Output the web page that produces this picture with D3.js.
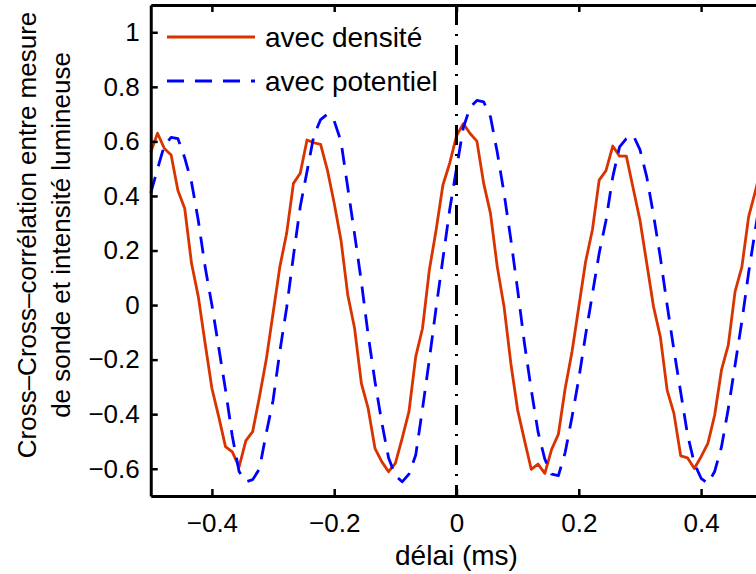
<!DOCTYPE html>
<html>
<head>
<meta charset="utf-8">
<script src="https://cdn.jsdelivr.net/npm/d3@7"></script>
<style>
    body { margin: 0; background: #fff; }
    #chart { width: 756px; height: 574px; }
    text { font-family: "Liberation Sans", Arial, Helvetica, sans-serif; fill: #000; }
</style>
</head>
<body>
<div id="chart"></div>
<script>

// cross-correlation samples, one every 1/90 ms from -0.5 to 0.5
const lagStart = -0.5;
const lagStep = 1 / 90;

const densite = [0.56, 0.63, 0.574, 0.55, 0.42, 0.354, 0.153, 0.031, -0.14, -0.305,
    -0.409, -0.519, -0.538, -0.593, -0.497, -0.464, -0.336, -0.2, -0.03, 0.14,
    0.263, 0.446, 0.483, 0.605, 0.595, 0.589, 0.495, 0.373, 0.238, 0.037,
    -0.085, -0.287, -0.379, -0.525, -0.574, -0.611, -0.58, -0.489, -0.391, -0.189,
    -0.085, 0.128, 0.275, 0.44, 0.52, 0.62, 0.665, 0.629, 0.601, 0.446,
    0.336, 0.14, -0.006, -0.214, -0.385, -0.495, -0.602, -0.583, -0.617, -0.529,
    -0.473, -0.305, -0.171, -0.006, 0.159, 0.275, 0.458, 0.493, 0.583, 0.546,
    0.546, 0.428, 0.312, 0.153, -0.006, -0.116, -0.312, -0.397, -0.553, -0.56,
    -0.599, -0.556, -0.507, -0.403, -0.238, -0.147, 0.049, 0.14, 0.324, 0.419,
    0.52];

const potentiel = [0.41, 0.5, 0.585, 0.615, 0.61, 0.54, 0.45, 0.31, 0.14, 0.0,
    -0.155, -0.31, -0.48, -0.61, -0.648, -0.64, -0.6, -0.47, -0.35, -0.17,
    -0.01, 0.18, 0.36, 0.49, 0.62, 0.68, 0.7, 0.675, 0.6, 0.43,
    0.26, 0.085, -0.11, -0.28, -0.43, -0.56, -0.625, -0.648, -0.62, -0.55,
    -0.38, -0.2, -0.01, 0.17, 0.35, 0.5, 0.65, 0.725, 0.75, 0.745,
    0.69, 0.56, 0.41, 0.24, 0.055, -0.14, -0.31, -0.465, -0.565, -0.62,
    -0.625, -0.54, -0.41, -0.27, -0.11, 0.04, 0.19, 0.31, 0.47, 0.58,
    0.61, 0.623, 0.57, 0.47, 0.33, 0.175, 0.0, -0.165, -0.32, -0.475,
    -0.58, -0.635, -0.654, -0.61, -0.52, -0.38, -0.22, -0.06, 0.12, 0.28,
    0.43];

const seriesNames = ["avec densité", "avec potentiel"];
const xTicks = [-0.4, -0.2, 0, 0.2, 0.4];
const yTicks = [-0.6, -0.4, -0.2, 0, 0.2, 0.4, 0.6, 0.8, 1];
const xDomain = [-0.5, 0.5];
const yDomain = [-0.7, 1.1];


class correlationPlot {

    constructor(parentElement) {
        this.parentElement = parentElement;
        this.initVis();
    }

    initVis() {
        let vis = this;

        vis.width = 756;
        vis.height = 574;

        vis.svg = d3.select("#" + vis.parentElement).append("svg")
            .attr("width", vis.width)
            .attr("height", vis.height);

        // axes box runs past the right edge of the window
        vis.x = d3.scaleLinear()
            .domain(xDomain)
            .range([150.75, 762.25]);

        vis.y = d3.scaleLinear()
            .domain(yDomain)
            .range([496, 5]);

        vis.wrangleData();
    }

    wrangleData() {
        let vis = this;

        let toPoints = vals => vals.map((v, i) => ({lag: lagStart + i * lagStep, value: v}));

        vis.displayData = [
            {name: seriesNames[0], points: toPoints(densite), color: "#d93300", dash: null},
            {name: seriesNames[1], points: toPoints(potentiel), color: "#0000ff", dash: "17,11"}
        ];

        vis.updateVis();
    }

    updateVis() {
        let vis = this;

        let line = d3.line()
            .x(d => vis.x(d.lag))
            .y(d => vis.y(d.value));

        vis.displayData.forEach(s => {
            vis.svg.append("path")
                .datum(s.points)
                .attr("d", line)
                .attr("fill", "none")
                .attr("stroke", s.color)
                .attr("stroke-width", 2.8)
                .attr("stroke-linejoin", "round")
                .attr("stroke-dasharray", s.dash);
        });

        // zero-lag marker
        vis.svg.append("line")
            .attr("x1", vis.x(0)).attr("x2", vis.x(0))
            .attr("y1", vis.y(yDomain[1])).attr("y2", vis.y(yDomain[0]))
            .attr("stroke", "#000")
            .attr("stroke-width", 3)
            .attr("stroke-dasharray", "20,9,2,9");

        // axes, ticks pointing inward
        let fmt = d => d3.format("")(d);

        let bottom = vis.svg.append("g")
            .attr("transform", "translate(0," + vis.y(yDomain[0]) + ")")
            .call(d3.axisBottom(vis.x).tickValues(xTicks).tickSizeInner(-7).tickSizeOuter(0).tickPadding(18).tickFormat(fmt));
        let top = vis.svg.append("g")
            .attr("transform", "translate(0," + vis.y(yDomain[1]) + ")")
            .call(d3.axisTop(vis.x).tickValues(xTicks).tickSizeInner(-7).tickSizeOuter(0).tickFormat(""));
        let left = vis.svg.append("g")
            .attr("transform", "translate(" + vis.x(xDomain[0]) + ",0)")
            .call(d3.axisLeft(vis.y).tickValues(yTicks).tickSizeInner(-7).tickSizeOuter(0).tickPadding(11).tickFormat(fmt));

        [bottom, top, left].forEach(g => {
            g.select(".domain").attr("stroke", "#000").attr("stroke-width", 3);
            g.selectAll(".tick line").attr("stroke", "#000").attr("stroke-width", 2.5);
            g.selectAll(".tick text")
                .attr("font-family", "Liberation Sans, Arial, sans-serif")
                .attr("font-size", 26)
                .attr("fill", "#000");
        });

        // axis titles
        vis.svg.append("text")
            .attr("x", vis.x(0))
            .attr("y", 565)
            .attr("text-anchor", "middle")
            .attr("font-size", 28)
            .text("délai (ms)");

        let ylab = vis.svg.append("text")
            .attr("transform", "translate(27,235) rotate(-90)")
            .attr("text-anchor", "middle")
            .attr("font-size", 26);
        ylab.append("tspan").attr("x", 0).attr("dy", "0.35em").text("Cross–Cross–corrélation entre mesure");
        ylab.append("tspan").attr("x", 0).attr("dy", "1.3em").text("de sonde et intensité lumineuse");

        // legend, no box
        let legend = vis.svg.append("g");
        vis.displayData.forEach((s, i) => {
            let ly = 37 + i * 44;
            legend.append("line")
                .attr("x1", 167).attr("x2", 255)
                .attr("y1", ly).attr("y2", ly)
                .attr("stroke", s.color)
                .attr("stroke-width", 2.8)
                .attr("stroke-dasharray", s.dash);
            legend.append("text")
                .attr("x", 265)
                .attr("y", ly + 10)
                .attr("font-size", 28)
                .text(s.name);
        });
    }
}

new correlationPlot("chart");

</script>
</body>
</html>
